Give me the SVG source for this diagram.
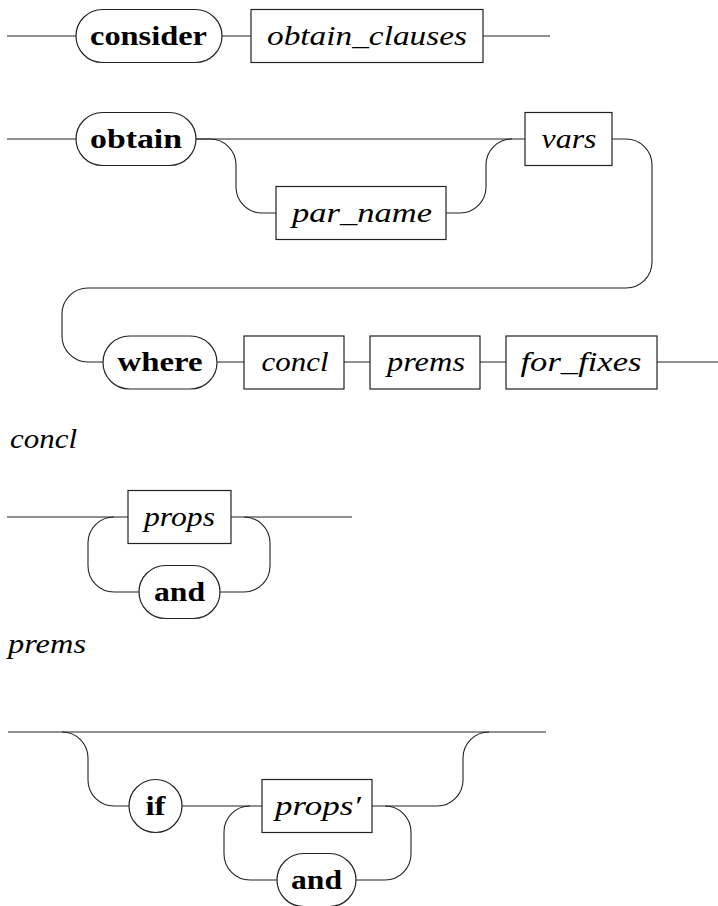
<svg xmlns="http://www.w3.org/2000/svg" width="718" height="906" viewBox="0 0 718 906">
<style>
.ln{fill:none;stroke:#222;stroke-width:1.1}
.box{fill:#fff;stroke:#222;stroke-width:1.2}
text{font-family:'Liberation Serif','DejaVu Serif','Noto Serif',serif;font-size:27px;fill:#000}
.t{text-anchor:middle}
.it{font-style:italic}
.bf{font-weight:bold}
.lab{font-style:italic}
</style>
<rect width="718" height="906" fill="#fff"/>
<g id="connectors">
<path class="ln" d="M7,36 H76 M222,36 H251 M483,36 H550"/>
<path class="ln" d="M7,139 H76 M196,139 H525"/>
<path class="ln" d="M196,139 H210 A26,26 0 0 1 236,165 V187 A26,26 0 0 0 262,213 H276"/>
<path class="ln" d="M446,213 H460 A26,26 0 0 0 486,187 V165 A26,26 0 0 1 512,139"/>
<path class="ln" d="M612,139 H626 A26,26 0 0 1 652,165 V262 A26,26 0 0 1 626,288 H88 A26,26 0 0 0 62,314 V336 A26,26 0 0 0 88,362 H103"/>
<path class="ln" d="M217,362 H244 M344,362 H370 M480,362 H506 M657,362 H718"/>
<path class="ln" d="M7,517 H128 M231,517 H352"/>
<path class="ln" d="M114,517 A26,26 0 0 0 88,543 V566 A26,26 0 0 0 114,592 H139"/>
<path class="ln" d="M220,592 H244 A26,26 0 0 0 270,566 V543 A26,26 0 0 0 244,517"/>
<path class="ln" d="M8,732 H546"/>
<path class="ln" d="M62,732 A26,26 0 0 1 88,758 V780 A26,26 0 0 0 114,806 H129"/>
<path class="ln" d="M182,806 H262"/>
<path class="ln" d="M372,806 H437 A26,26 0 0 0 463,780 V758 A26,26 0 0 1 489,732"/>
<path class="ln" d="M250,806 A26,26 0 0 0 224,832 V854 A26,26 0 0 0 250,880 H277"/>
<path class="ln" d="M356,880 H385 A26,26 0 0 0 411,854 V832 A26,26 0 0 0 385,806"/>
</g>
<g id="consider"><rect class="box" x="76" y="9.5" width="146" height="53" rx="26.5"/><text class="t bf" x="148.5" y="45" textLength="117" lengthAdjust="spacingAndGlyphs">consider</text></g>
<g id="obtain_clauses"><rect class="box" x="251" y="9.5" width="232" height="53"/><text class="t it" x="367" y="45" textLength="200" lengthAdjust="spacingAndGlyphs">obtain_clauses</text></g>
<g id="obtain"><rect class="box" x="76" y="112.5" width="120" height="53" rx="26.5"/><text class="t bf" x="136" y="148" textLength="92" lengthAdjust="spacingAndGlyphs">obtain</text></g>
<g id="par_name"><rect class="box" x="276" y="186.5" width="170" height="53"/><text class="t it" x="362" y="221.5" textLength="140" lengthAdjust="spacingAndGlyphs">par_name</text></g>
<g id="vars"><rect class="box" x="525" y="112.5" width="87" height="53"/><text class="t it" x="569" y="147.5" textLength="55" lengthAdjust="spacingAndGlyphs">vars</text></g>
<g id="where"><rect class="box" x="103" y="336" width="114" height="53" rx="26.5"/><text class="t bf" x="160" y="371" textLength="85" lengthAdjust="spacingAndGlyphs">where</text></g>
<g id="concl_ref"><rect class="box" x="244" y="336" width="100" height="53"/><text class="t it" x="295" y="370.5" textLength="67" lengthAdjust="spacingAndGlyphs">concl</text></g>
<g id="prems_ref"><rect class="box" x="370" y="336" width="110" height="53"/><text class="t it" x="426" y="370.5" textLength="78" lengthAdjust="spacingAndGlyphs">prems</text></g>
<g id="for_fixes"><rect class="box" x="506" y="336" width="151" height="53"/><text class="t it" x="581" y="370.5" textLength="121" lengthAdjust="spacingAndGlyphs">for_fixes</text></g>
<g id="concl_label"><text class="lab" x="10" y="448" textLength="67" lengthAdjust="spacingAndGlyphs">concl</text></g>
<g id="props"><rect class="box" x="128" y="490.5" width="103" height="53"/><text class="t it" x="179.5" y="525.5" textLength="71" lengthAdjust="spacingAndGlyphs">props</text></g>
<g id="and1"><rect class="box" x="139" y="565.5" width="81" height="53" rx="26.5"/><text class="t bf" x="179.5" y="600.5" textLength="51" lengthAdjust="spacingAndGlyphs">and</text></g>
<g id="prems_label"><text class="lab" x="8" y="653" textLength="78" lengthAdjust="spacingAndGlyphs">prems</text></g>
<g id="if"><circle class="box" cx="155.5" cy="806" r="26.5"/><text class="t bf" x="155.5" y="815" textLength="20" lengthAdjust="spacingAndGlyphs">if</text></g>
<g id="props_prime"><rect class="box" x="262" y="779.5" width="110" height="53"/><text class="t it" x="318" y="815" textLength="86" lengthAdjust="spacingAndGlyphs">props′</text></g>
<g id="and2"><rect class="box" x="277" y="853.5" width="79" height="53" rx="26.5"/><text class="t bf" x="316.5" y="889" textLength="51" lengthAdjust="spacingAndGlyphs">and</text></g>
</svg>
